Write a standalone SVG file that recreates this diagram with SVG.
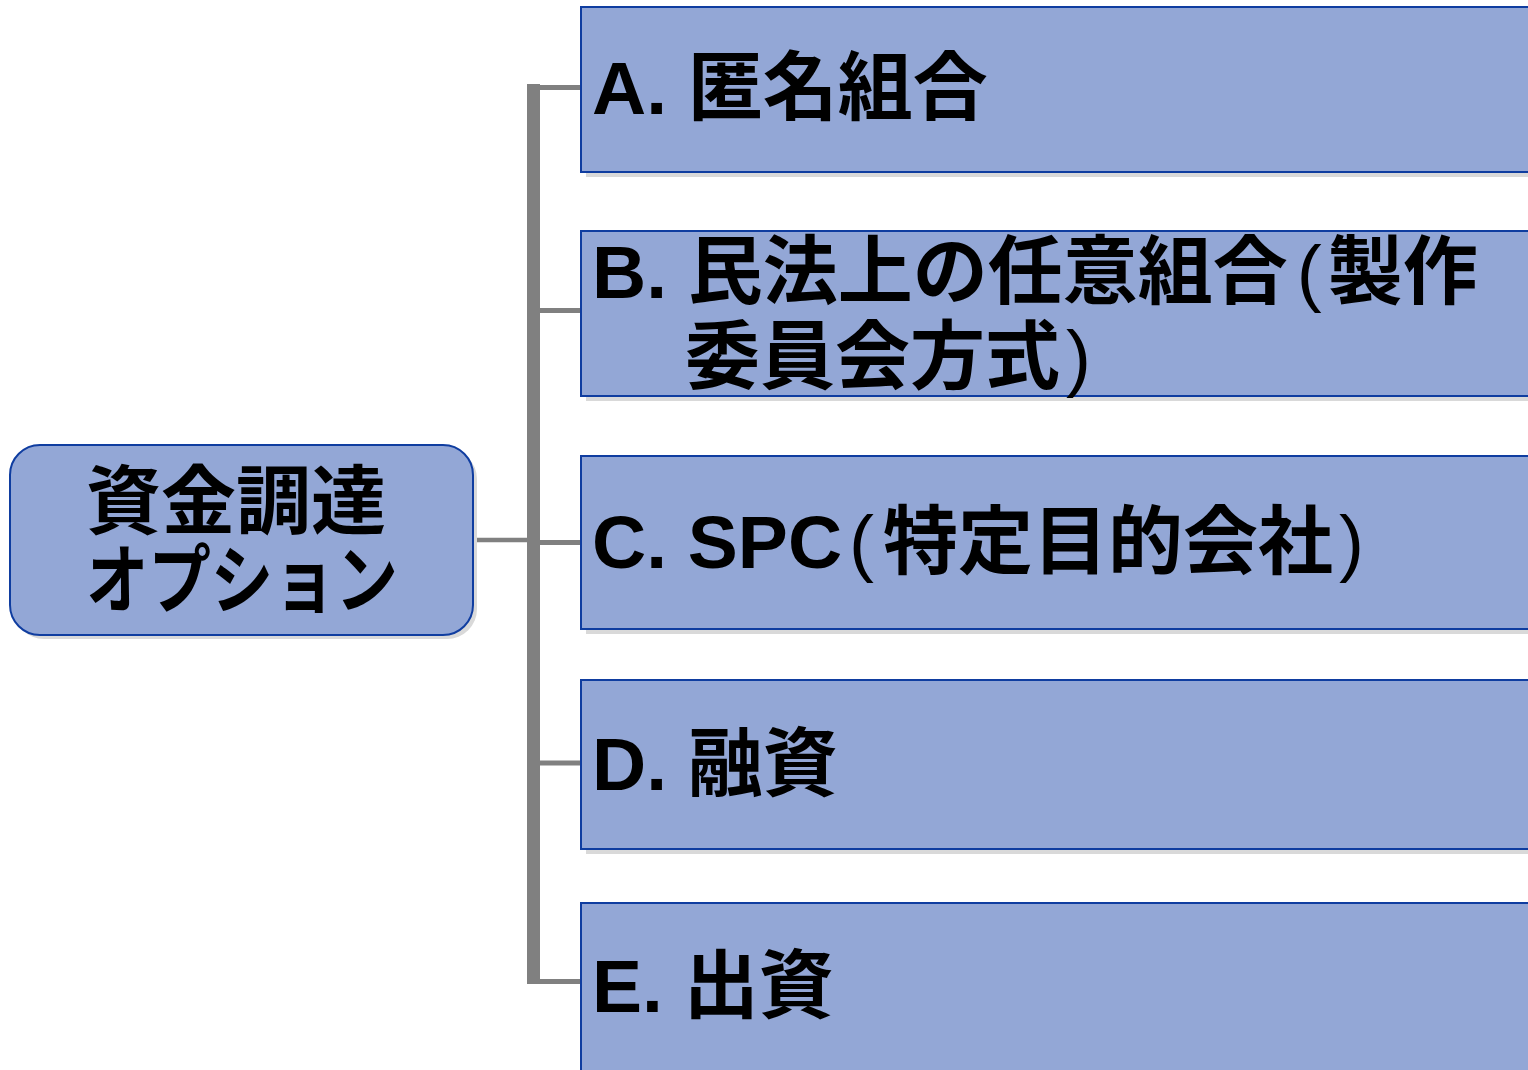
<svg xmlns="http://www.w3.org/2000/svg" width="1528" height="1070" viewBox="0 0 1528 1070">
<style>
.box{fill:#93a7d6;stroke:#0f3da0;stroke-width:2}
.shd{fill:#d9d9d9}
.t{font-family:"Liberation Sans","Noto Sans CJK JP",sans-serif;font-weight:bold;font-size:75px;fill:#000}
.p{font-weight:normal}
.c{stroke:#808080;fill:none}
</style>
<rect width="1528" height="1070" fill="#ffffff"/>
<g id="connectors">
<line class="c" x1="473" y1="540" x2="529" y2="540" stroke-width="4.5"/>
<line class="c" x1="533.5" y1="84" x2="533.5" y2="984" stroke-width="13"/>
<line class="c" x1="533" y1="87.5" x2="582" y2="87.5" stroke-width="5"/>
<line class="c" x1="533" y1="310.5" x2="582" y2="310.5" stroke-width="5"/>
<line class="c" x1="533" y1="542.5" x2="582" y2="542.5" stroke-width="5"/>
<line class="c" x1="533" y1="763" x2="582" y2="763" stroke-width="5"/>
<line class="c" x1="527" y1="981.5" x2="582" y2="981.5" stroke-width="5"/>
</g>
<g id="root">
<rect class="shd" x="14" y="449" width="463" height="190" rx="30"/>
<rect class="box" x="10" y="445" width="463" height="190" rx="30"/>
<text class="t" x="86" y="528" textLength="300" lengthAdjust="spacingAndGlyphs">資金調達</text>
<text class="t" x="86" y="607" textLength="312" lengthAdjust="spacingAndGlyphs">オプション</text>
</g>
<g id="nodeA">
<rect class="shd" x="586" y="12" width="960" height="165"/>
<rect class="box" x="581" y="7" width="960" height="165"/>
<text class="t" x="592" y="114">A. 匿名組合</text>
</g>
<g id="nodeB">
<rect class="shd" x="586" y="236" width="960" height="165"/>
<rect class="box" x="581" y="231" width="960" height="165"/>
<text class="t" x="592" y="298">B. 民法上の任意組合<tspan class="p" dx="9">(</tspan><tspan dx="6">製作</tspan></text>
<text class="t" x="685" y="383">委員会方式<tspan class="p" dx="6">)</tspan></text>
</g>
<g id="nodeC">
<rect class="shd" x="586" y="461" width="960" height="173"/>
<rect class="box" x="581" y="456" width="960" height="173"/>
<text class="t" x="592" y="568">C. SPC<tspan class="p" dx="7">(</tspan><tspan dx="9">特定目的会社</tspan><tspan class="p" dx="6">)</tspan></text>
</g>
<g id="nodeD">
<rect class="shd" x="586" y="685" width="960" height="169"/>
<rect class="box" x="581" y="680" width="960" height="169"/>
<text class="t" x="592" y="790">D. 融資</text>
</g>
<g id="nodeE">
<rect class="shd" x="586" y="908" width="960" height="200"/>
<rect class="box" x="581" y="903" width="960" height="200"/>
<text class="t" x="592" y="1012">E. 出資</text>
</g>
</svg>
